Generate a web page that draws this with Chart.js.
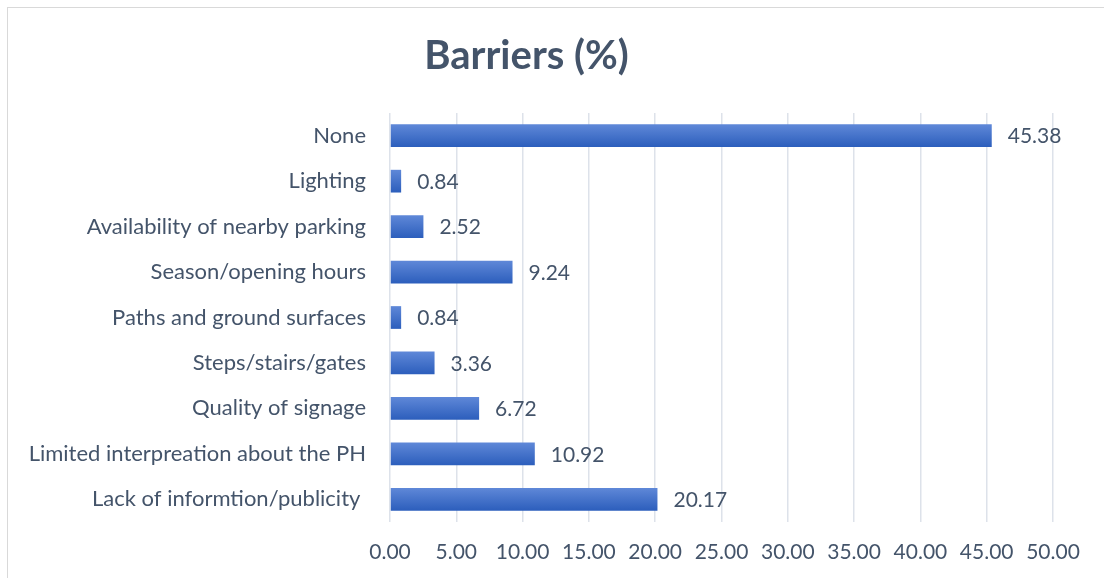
<!DOCTYPE html>
<html>
<head>
<meta charset="utf-8">
<script src="https://cdn.jsdelivr.net/npm/chart.js@4/dist/chart.umd.min.js"></script>
<style>
  html, body { margin: 0; padding: 0; background: #fff; }
  #wrap { position: relative; width: 1104px; height: 578px; overflow: hidden; }
  #frame { position: absolute; left: 7px; top: 7px; width: 1120px; height: 600px; border: 1px solid #d9d9d9; box-sizing: border-box; }
  canvas { position: absolute; left: 0; top: 0; }
</style>
</head>
<body>
<div id="wrap">
  <div id="frame"></div>
  <canvas id="chart" width="1104" height="578"></canvas>
</div>
<script>
const categories = [
  "None",
  "Lighting",
  "Availability of nearby parking",
  "Season/opening hours",
  "Paths and ground surfaces",
  "Steps/stairs/gates",
  "Quality of signage",
  "Limited interpreation about the PH",
  "Lack of informtion/publicity ",
];
const values = [45.38, 0.84, 2.52, 9.24, 0.84, 3.36, 6.72, 10.92, 20.17];
const xTicks = [0, 5, 10, 15, 20, 25, 30, 35, 40, 45, 50];

const textColor = "#44546A";
const fontFamily = "Lato, 'Open Sans', sans-serif";
const barPct = 0.5;

// labels to the right of each bar
const valueLabels = {
  id: "valueLabels",
  afterDatasetsDraw(chart) {
    const ctx = chart.ctx;
    const meta = chart.getDatasetMeta(0);
    ctx.save();
    ctx.font = "21px " + fontFamily;
    ctx.fillStyle = textColor;
    ctx.textAlign = "left";
    ctx.textBaseline = "middle";
    meta.data.forEach((bar, i) => {
      ctx.fillText(values[i].toFixed(2), bar.x + 16, bar.y + 1);
    });
    ctx.restore();
  },
};

// vertical gradient per bar, like the Office fill
function barFill(context) {
  const chart = context.chart;
  const ys = chart.scales.y;
  if (!ys || !chart.chartArea) return "#4472C4";
  const cy = ys.getPixelForValue(context.dataIndex);
  const h = (ys.height / categories.length) * barPct;
  const g = chart.ctx.createLinearGradient(0, cy - h / 2, 0, cy + h / 2);
  g.addColorStop(0, "#5F88D8");
  g.addColorStop(1, "#2C5EBC");
  return g;
}

new Chart(document.getElementById("chart"), {
  type: "bar",
  data: {
    labels: categories,
    datasets: [
      {
        data: values,
        backgroundColor: barFill,
        borderWidth: 0,
        categoryPercentage: 1,
        barPercentage: barPct,
      },
    ],
  },
  options: {
    indexAxis: "y",
    responsive: false,
    animation: false,
    layout: { padding: { left: 0, right: 51, top: 0, bottom: 0 } },
    plugins: {
      legend: { display: false },
      tooltip: { enabled: false },
      title: {
        display: true,
        text: "Barriers (%)",
        color: textColor,
        font: { family: fontFamily, size: 40, weight: "bold", lineHeight: 1.2 },
        padding: { top: 32, bottom: 33 },
      },
    },
    scales: {
      x: {
        min: 0,
        max: 50,
        afterBuildTicks(scale) {
          scale.ticks = xTicks.map((v) => ({ value: v }));
        },
        afterFit(scale) {
          scale.height = 56;
        },
        border: { display: false },
        grid: { color: "#DDE2EA", lineWidth: 1.5, drawTicks: false },
        ticks: {
          color: textColor,
          font: { family: fontFamily, size: 21 },
          padding: 18,
          maxRotation: 0,
          callback: (v) => Number(v).toFixed(2),
        },
      },
      y: {
        afterFit(scale) {
          scale.width = 390;
        },
        border: { display: false },
        grid: { display: false, drawTicks: false },
        ticks: {
          color: textColor,
          font: { family: fontFamily, size: 22 },
          padding: 24,
        },
      },
    },
  },
  plugins: [valueLabels],
});
</script>
</body>
</html>
